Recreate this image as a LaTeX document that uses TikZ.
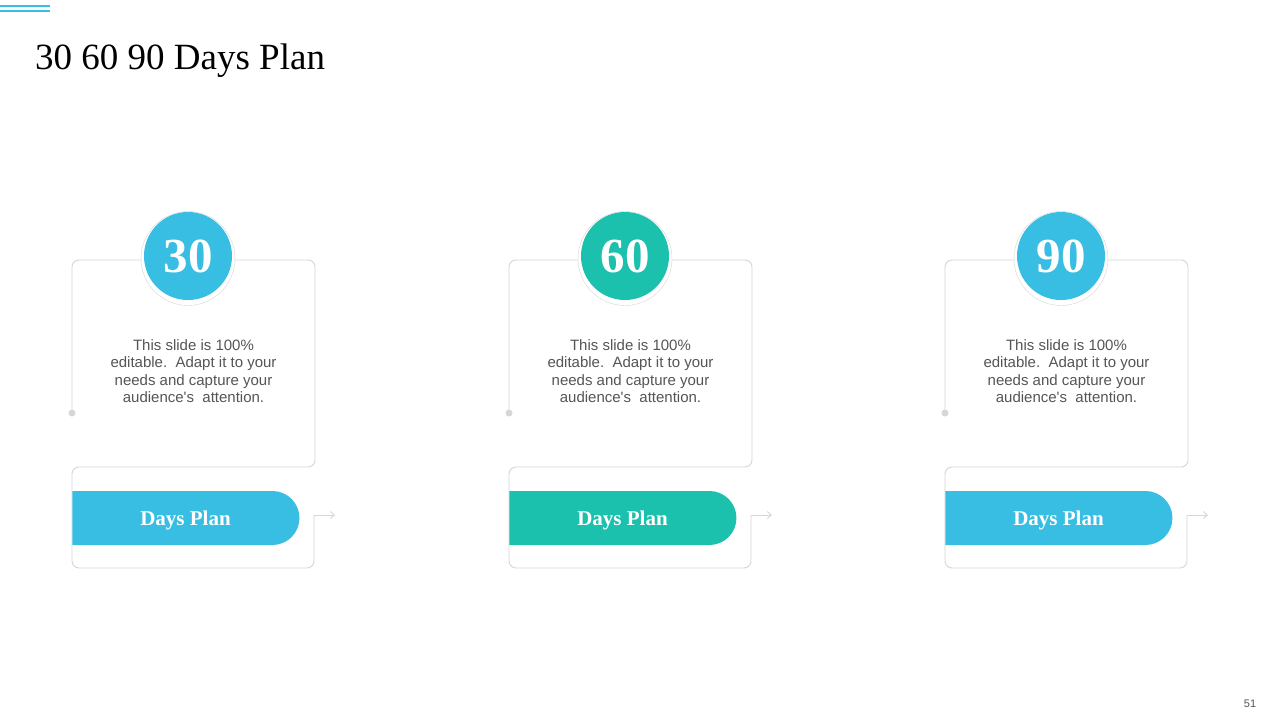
\documentclass[tikz,border=0pt]{standalone}
\usepackage{fontspec}
\setmainfont{Liberation Serif}
\newfontfamily\arialfont{Liberation Sans}
\usetikzlibrary{shapes.misc,arrows.meta}

\definecolor{planblue}{RGB}{56,190,226}
\definecolor{planteal}{RGB}{28,193,173}
\definecolor{frameline}{RGB}{214,214,214}
\definecolor{bodytext}{RGB}{85,85,85}

\tikzset{
  frame/.style={draw=frameline, line width=0.9pt, rounded corners=7pt},
  halo/.style={circle, draw=frameline, fill=white, minimum size=94pt, inner sep=0pt},
  daynum/.style={circle, minimum size=88pt, inner sep=0pt, text=white, font=\bfseries\fontsize{49}{49}\selectfont},
  note/.style={text=bodytext, align=center, inner sep=0pt, font=\arialfont\fontsize{15}{17.5}\selectfont},
  pill/.style={rounded rectangle, rounded rectangle west arc=none, minimum width=227pt, minimum height=54pt, inner sep=0pt,
    text height=14pt, text depth=0pt, text=white, font=\bfseries\fontsize{21}{21}\selectfont},
  marker/.style={draw=planblue, line width=2pt},
}

\begin{document}
\begin{tikzpicture}[x=1pt, y=-1pt]
  \useasboundingbox[fill=white] (0,0) rectangle (1280,720);
  % corner marker and heading
  \draw[marker] (0,6) -- (50,6);
  \draw[marker] (0,10.5) -- (50,10.5);
  \node[anchor=base west, inner sep=0pt, font=\fontsize{37}{37}\selectfont] (title) at (35,69) {30 60 90 Days Plan};

  \foreach \i/\dx/\n/\col in {1/0/30/planblue, 2/437/60/planteal, 3/873/90/planblue} {
    \begin{scope}[xshift=\dx pt]
      \coordinate (dot\i) at (72,413);
      \coordinate (bend\i) at (314,515);
      \draw[frame] (dot\i) -- (72,260) -- (315,260) -- (315,467) -- (72,467)
        -- (72,568) -- (314,568) -- (bend\i);
      \draw[draw=frameline, line width=0.9pt, line cap=rect, -{Straight Barb[length=4pt, width=7pt]}] (bend\i) -- ++(21,0) coordinate (tip\i);
      \fill[frameline] (dot\i) circle[radius=3.5];
      \node[halo] (halo\i) at (188,258.5) {};
      \node[daynum, fill=\col] (num\i) at (188,256) {\n};
      \node[note] (txt\i) at (193.5,371) {This slide is 100\%\\editable.\ \ Adapt it to your\\needs and capture your\\audience's\ \ attention.};
      \node[pill, fill=\col] (pill\i) at (185.5,518) {Days Plan};
    \end{scope}
  }

  \node[text=bodytext, font=\arialfont\fontsize{11}{11}\selectfont] (page) at (1250,704) {51};
\end{tikzpicture}
\end{document}
